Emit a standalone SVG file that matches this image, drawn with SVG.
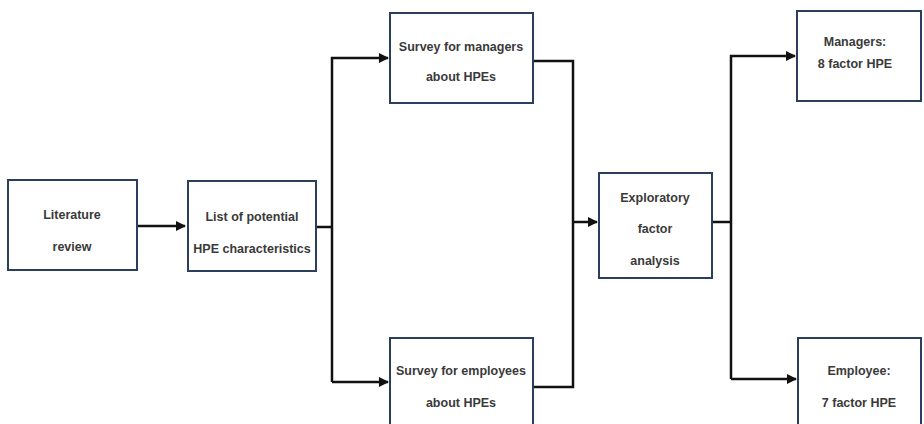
<svg xmlns="http://www.w3.org/2000/svg" width="924" height="424" viewBox="0 0 924 424">
<style>
.box{fill:#fff;stroke:#2b3e5c;stroke-width:2}
.t{font-family:"Liberation Sans",Arial,sans-serif;font-size:12.5px;font-weight:bold;fill:#3a3a3a;text-anchor:middle}
.c{fill:none;stroke:#111;stroke-width:2.5;stroke-linejoin:miter}
</style>
<defs>
<marker id="ah" viewBox="0 0 10 10" refX="9" refY="5" markerWidth="4" markerHeight="4" orient="auto" markerUnits="strokeWidth">
<path d="M0,0 L10,5 L0,10 Z" fill="#111"/>
</marker>
</defs>
<rect width="924" height="424" fill="#fff"/>
<g id="connectors">
<path class="c" d="M137,226 H185" marker-end="url(#ah)"/>
<path class="c" d="M316,227 H332"/>
<path class="c" d="M332,382 V58 H388" marker-end="url(#ah)"/>
<path class="c" d="M332,382 H388" marker-end="url(#ah)"/>
<path class="c" d="M533,61 H573 V387 H533"/>
<path class="c" d="M573,222 H597" marker-end="url(#ah)"/>
<path class="c" d="M712,222 H731"/>
<path class="c" d="M731,379 V56 H795" marker-end="url(#ah)"/>
<path class="c" d="M731,379 H796" marker-end="url(#ah)"/>
</g>
<g id="literature">
<rect class="box" x="8" y="180" width="129" height="90"/>
<text class="t" x="72" y="219">Literature</text>
<text class="t" x="72" y="251">review</text>
</g>
<g id="list">
<rect class="box" x="188" y="181" width="128" height="90"/>
<text class="t" x="252" y="221">List of potential</text>
<text class="t" x="252" y="253">HPE characteristics</text>
</g>
<g id="survey-managers">
<rect class="box" x="390" y="13" width="143" height="90"/>
<text class="t" x="461" y="51">Survey for managers</text>
<text class="t" x="461" y="81">about HPEs</text>
</g>
<g id="survey-employees">
<rect class="box" x="390" y="338" width="143" height="100"/>
<text class="t" x="461" y="375">Survey for employees</text>
<text class="t" x="461" y="407">about HPEs</text>
</g>
<g id="efa">
<rect class="box" x="599" y="173" width="113" height="105"/>
<text class="t" x="655" y="202">Exploratory</text>
<text class="t" x="655" y="233">factor</text>
<text class="t" x="655" y="265">analysis</text>
</g>
<g id="managers-result">
<rect class="box" x="797" y="11" width="124" height="90"/>
<text class="t" x="855" y="46">Managers:</text>
<text class="t" x="855" y="68">8 factor HPE</text>
</g>
<g id="employee-result">
<rect class="box" x="798" y="338" width="123" height="100"/>
<text class="t" x="859" y="375">Employee:</text>
<text class="t" x="859" y="407">7 factor HPE</text>
</g>
</svg>
